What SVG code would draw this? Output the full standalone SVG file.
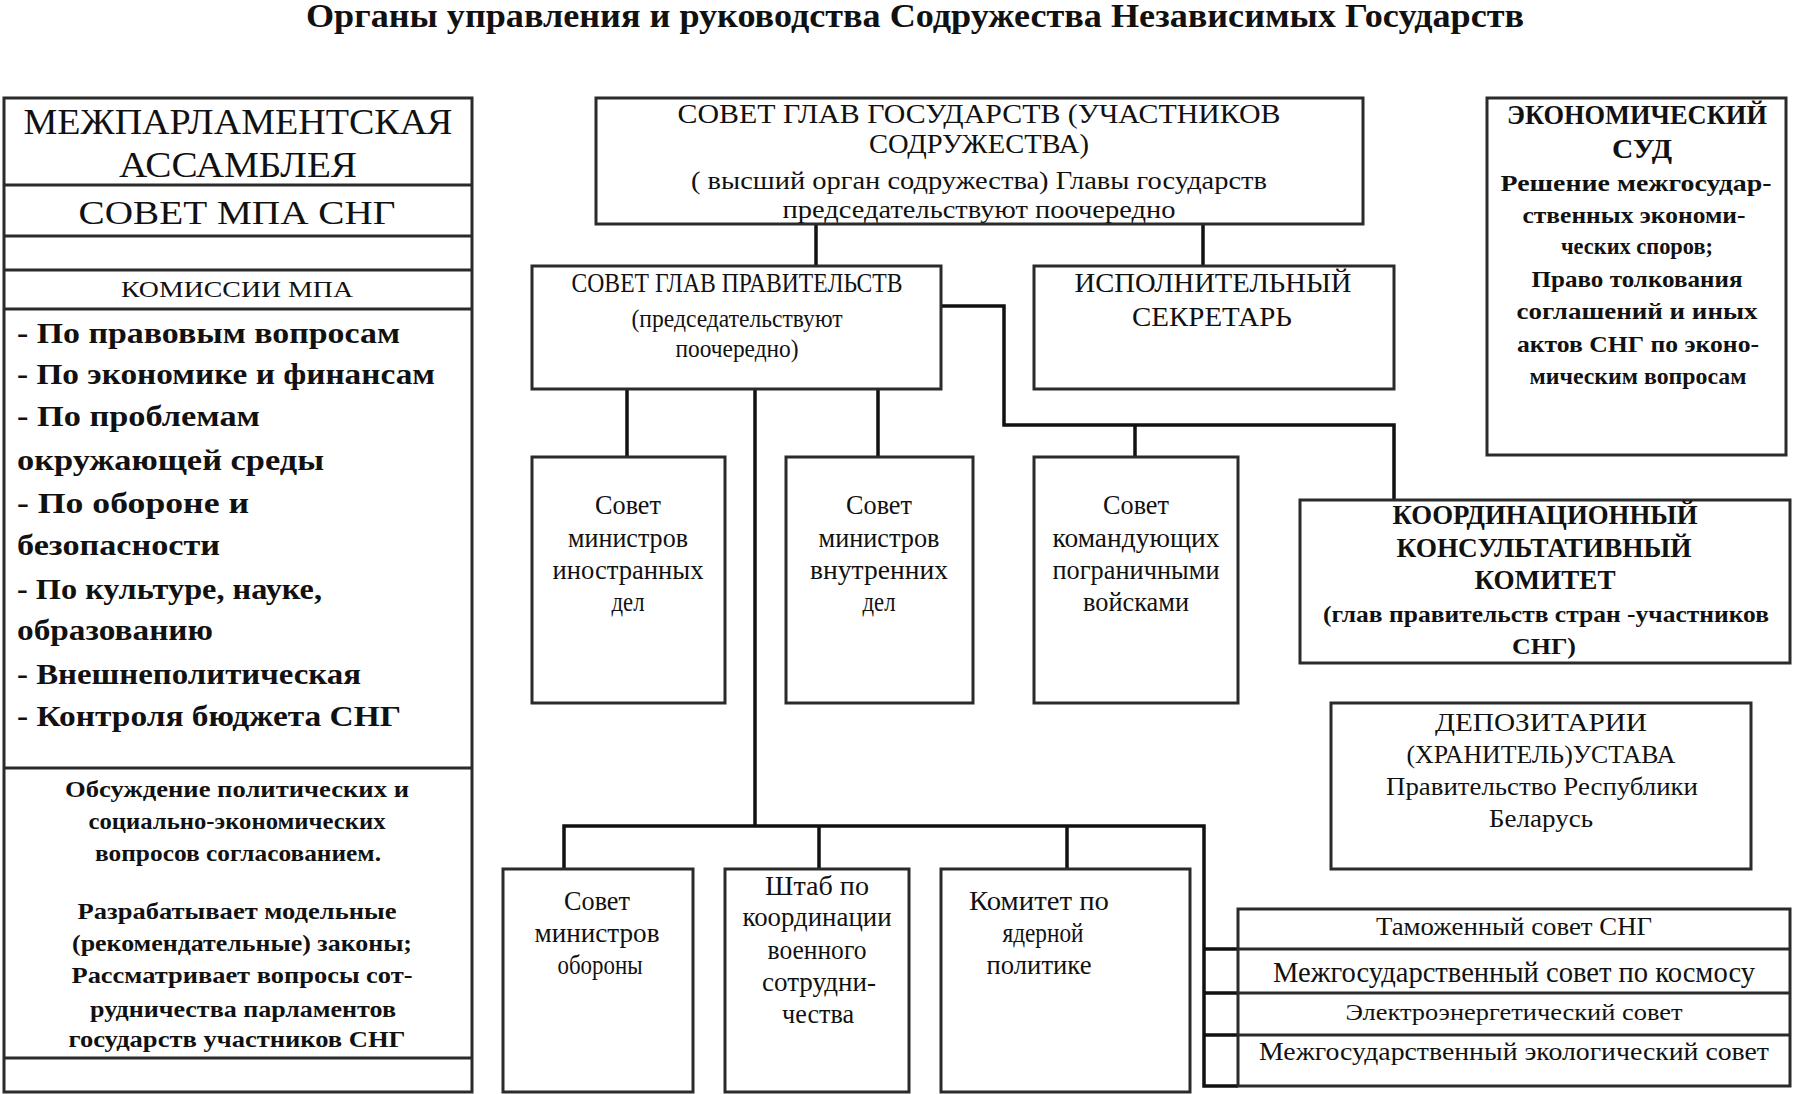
<svg xmlns="http://www.w3.org/2000/svg" width="1793" height="1094" viewBox="0 0 1793 1094">
<style>
.box{fill:#fff;stroke:#2b2b2b;stroke-width:3}
.sep{stroke:#2b2b2b;stroke-width:3;fill:none}
.c{fill:none;stroke:#111;stroke-width:3.5}
text{font-family:"Liberation Serif","Times New Roman",serif;fill:#111}
.m{text-anchor:middle}
.b{font-weight:bold}
</style>
<rect width="1793" height="1094" fill="#fff"/>
<text class="m b" x="915" y="27" font-size="34" textLength="1218" lengthAdjust="spacingAndGlyphs">Органы управления и руководства Содружества Независимых Государств</text>

<g id="connectors">
<path class="c" d="M816 224V266M1203 224V266"/>
<path class="c" d="M941 306H1004V425H1394V500M1135 425V457"/>
<path class="c" d="M627 389V457M878 389V457"/>
<path class="c" d="M755 389V826M564 869V826H1204V1086H1238M819 826V869M1067 826V869"/>
<path class="c" d="M1204 949H1238M1204 993H1238M1204 1035H1238"/>
</g>

<g id="mpa">
<rect class="box" x="4" y="98" width="468" height="994"/>
<path class="sep" d="M4 185H472M4 236H472M4 270H472M4 309H472M4 768H472M4 1058H472"/>
<text class="m" x="238" y="134" font-size="36" textLength="429" lengthAdjust="spacingAndGlyphs">МЕЖПАРЛАМЕНТСКАЯ</text>
<text class="m" x="238" y="177" font-size="36" textLength="238" lengthAdjust="spacingAndGlyphs">АССАМБЛЕЯ</text>
<text class="m" x="237" y="224" font-size="34" textLength="317" lengthAdjust="spacingAndGlyphs">СОВЕТ МПА СНГ</text>
<text class="m" x="237" y="297" font-size="24" textLength="232" lengthAdjust="spacingAndGlyphs">КОМИССИИ МПА</text>
<g class="b" font-size="30">
<text x="17" y="343" textLength="383" lengthAdjust="spacingAndGlyphs">- По правовым вопросам</text>
<text x="17" y="384" textLength="418" lengthAdjust="spacingAndGlyphs">- По экономике и финансам</text>
<text x="17" y="426" textLength="243" lengthAdjust="spacingAndGlyphs">- По проблемам</text>
<text x="17" y="470" textLength="307" lengthAdjust="spacingAndGlyphs">окружающей среды</text>
<text x="17" y="513" textLength="232" lengthAdjust="spacingAndGlyphs">- По обороне и</text>
<text x="17" y="555" textLength="203" lengthAdjust="spacingAndGlyphs">безопасности</text>
<text x="17" y="599" textLength="305" lengthAdjust="spacingAndGlyphs">- По культуре, науке,</text>
<text x="17" y="640" textLength="196" lengthAdjust="spacingAndGlyphs">образованию</text>
<text x="17" y="684" textLength="344" lengthAdjust="spacingAndGlyphs">- Внешнеполитическая</text>
<text x="17" y="726" textLength="384" lengthAdjust="spacingAndGlyphs">- Контроля бюджета СНГ</text>
</g>
<g class="m b" font-size="24">
<text x="237" y="797" textLength="344" lengthAdjust="spacingAndGlyphs">Обсуждение политических и</text>
<text x="237" y="829" textLength="297" lengthAdjust="spacingAndGlyphs">социально-экономических</text>
<text x="238" y="861" textLength="286" lengthAdjust="spacingAndGlyphs">вопросов согласованием.</text>
<text x="237" y="919" textLength="319" lengthAdjust="spacingAndGlyphs">Разрабатывает модельные</text>
<text x="242" y="951" textLength="340" lengthAdjust="spacingAndGlyphs">(рекомендательные) законы;</text>
<text x="242" y="983" textLength="341" lengthAdjust="spacingAndGlyphs">Рассматривает вопросы сот-</text>
<text x="243" y="1017" textLength="306" lengthAdjust="spacingAndGlyphs">рудничества парламентов</text>
<text x="237" y="1047" textLength="337" lengthAdjust="spacingAndGlyphs">государств участников СНГ</text>
</g>
</g>

<g id="sgg">
<rect class="box" x="596" y="98" width="767" height="126"/>
<g class="m" font-size="27">
<text x="979" y="123" textLength="603" lengthAdjust="spacingAndGlyphs">СОВЕТ ГЛАВ ГОСУДАРСТВ (УЧАСТНИКОВ</text>
<text x="979" y="153" textLength="220" lengthAdjust="spacingAndGlyphs">СОДРУЖЕСТВА)</text>
</g>
<g class="m" font-size="26">
<text x="979" y="189" textLength="576" lengthAdjust="spacingAndGlyphs">( высший орган содружества) Главы государств</text>
<text x="979" y="218" textLength="393" lengthAdjust="spacingAndGlyphs">председательствуют поочередно</text>
</g>
</g>

<g id="sgp">
<rect class="box" x="532" y="266" width="409" height="123"/>
<text class="m" x="737" y="292" font-size="27" textLength="331" lengthAdjust="spacingAndGlyphs">СОВЕТ ГЛАВ ПРАВИТЕЛЬСТВ</text>
<text class="m" x="737" y="327" font-size="25" textLength="211" lengthAdjust="spacingAndGlyphs">(председательствуют</text>
<text class="m" x="737" y="357" font-size="25" textLength="123" lengthAdjust="spacingAndGlyphs">поочередно)</text>
</g>

<g id="ispsec">
<rect class="box" x="1034" y="266" width="360" height="123"/>
<text class="m" x="1213" y="292" font-size="28" textLength="277" lengthAdjust="spacingAndGlyphs">ИСПОЛНИТЕЛЬНЫЙ</text>
<text class="m" x="1212" y="326" font-size="28" textLength="160" lengthAdjust="spacingAndGlyphs">СЕКРЕТАРЬ</text>
</g>

<g id="ecsud">
<rect class="box" x="1487" y="98" width="299" height="357"/>
<text class="m b" x="1637" y="124" font-size="27" textLength="260" lengthAdjust="spacingAndGlyphs">ЭКОНОМИЧЕСКИЙ</text>
<text class="m b" x="1642" y="158" font-size="27" textLength="60" lengthAdjust="spacingAndGlyphs">СУД</text>
<g class="m b" font-size="23">
<text x="1636" y="191" textLength="271" lengthAdjust="spacingAndGlyphs">Решение межгосудар-</text>
<text x="1634" y="223" textLength="223" lengthAdjust="spacingAndGlyphs">ственных экономи-</text>
<text x="1637" y="254" textLength="152" lengthAdjust="spacingAndGlyphs">ческих споров;</text>
<text x="1637" y="287" textLength="211" lengthAdjust="spacingAndGlyphs">Право толкования</text>
<text x="1637" y="319" textLength="241" lengthAdjust="spacingAndGlyphs">соглашений и иных</text>
<text x="1638" y="352" textLength="242" lengthAdjust="spacingAndGlyphs">актов СНГ по эконо-</text>
<text x="1638" y="384" textLength="217" lengthAdjust="spacingAndGlyphs">мическим вопросам</text>
</g>
</g>

<g id="kkk">
<rect class="box" x="1300" y="500" width="490" height="163"/>
<g class="m b" font-size="27">
<text x="1545" y="524" textLength="305" lengthAdjust="spacingAndGlyphs">КООРДИНАЦИОННЫЙ</text>
<text x="1544" y="557" textLength="295" lengthAdjust="spacingAndGlyphs">КОНСУЛЬТАТИВНЫЙ</text>
<text x="1545" y="589" textLength="141" lengthAdjust="spacingAndGlyphs">КОМИТЕТ</text>
</g>
<g class="m b" font-size="23">
<text x="1546" y="622" textLength="446" lengthAdjust="spacingAndGlyphs">(глав правительств стран -участников</text>
<text x="1544" y="654" textLength="64" lengthAdjust="spacingAndGlyphs">СНГ)</text>
</g>
</g>

<g id="smid">
<rect class="box" x="532" y="457" width="193" height="246"/>
<g class="m" font-size="27">
<text x="628" y="514" textLength="66" lengthAdjust="spacingAndGlyphs">Совет</text>
<text x="628" y="547" textLength="120" lengthAdjust="spacingAndGlyphs">министров</text>
<text x="628" y="579" textLength="151" lengthAdjust="spacingAndGlyphs">иностранных</text>
<text x="628" y="611" textLength="33" lengthAdjust="spacingAndGlyphs">дел</text>
</g>
</g>

<g id="smvd">
<rect class="box" x="786" y="457" width="187" height="246"/>
<g class="m" font-size="27">
<text x="879" y="514" textLength="66" lengthAdjust="spacingAndGlyphs">Совет</text>
<text x="879" y="547" textLength="121" lengthAdjust="spacingAndGlyphs">министров</text>
<text x="879" y="579" textLength="138" lengthAdjust="spacingAndGlyphs">внутренних</text>
<text x="879" y="611" textLength="33" lengthAdjust="spacingAndGlyphs">дел</text>
</g>
</g>

<g id="skpv">
<rect class="box" x="1034" y="457" width="204" height="246"/>
<g class="m" font-size="27">
<text x="1136" y="514" textLength="66" lengthAdjust="spacingAndGlyphs">Совет</text>
<text x="1136" y="547" textLength="167" lengthAdjust="spacingAndGlyphs">командующих</text>
<text x="1136" y="579" textLength="167" lengthAdjust="spacingAndGlyphs">пограничными</text>
<text x="1136" y="611" textLength="106" lengthAdjust="spacingAndGlyphs">войсками</text>
</g>
</g>

<g id="depo">
<rect class="box" x="1331" y="703" width="420" height="166"/>
<g class="m" font-size="26">
<text x="1541" y="731" textLength="212" lengthAdjust="spacingAndGlyphs">ДЕПОЗИТАРИИ</text>
<text x="1541" y="763" textLength="269" lengthAdjust="spacingAndGlyphs">(ХРАНИТЕЛЬ)УСТАВА</text>
<text x="1542" y="795" textLength="312" lengthAdjust="spacingAndGlyphs">Правительство Республики</text>
<text x="1541" y="827" textLength="104" lengthAdjust="spacingAndGlyphs">Беларусь</text>
</g>
</g>

<g id="smo">
<rect class="box" x="503" y="869" width="190" height="223"/>
<g class="m" font-size="27">
<text x="597" y="910" textLength="66" lengthAdjust="spacingAndGlyphs">Совет</text>
<text x="597" y="942" textLength="125" lengthAdjust="spacingAndGlyphs">министров</text>
<text x="600" y="974" textLength="85" lengthAdjust="spacingAndGlyphs">обороны</text>
</g>
</g>

<g id="shtab">
<rect class="box" x="725" y="869" width="184" height="223"/>
<g class="m" font-size="27">
<text x="817" y="895" textLength="104" lengthAdjust="spacingAndGlyphs">Штаб по</text>
<text x="817" y="926" textLength="149" lengthAdjust="spacingAndGlyphs">координации</text>
<text x="817" y="959" textLength="99" lengthAdjust="spacingAndGlyphs">военного</text>
<text x="819" y="991" textLength="114" lengthAdjust="spacingAndGlyphs">сотрудни-</text>
<text x="818" y="1023" textLength="72" lengthAdjust="spacingAndGlyphs">чества</text>
</g>
</g>

<g id="kyp">
<rect class="box" x="941" y="869" width="249" height="223"/>
<g class="m" font-size="27">
<text x="1039" y="910" textLength="140" lengthAdjust="spacingAndGlyphs">Комитет по</text>
<text x="1043" y="942" textLength="81" lengthAdjust="spacingAndGlyphs">ядерной</text>
<text x="1039" y="974" textLength="105" lengthAdjust="spacingAndGlyphs">политике</text>
</g>
</g>

<g id="councils">
<rect class="box" x="1238" y="909" width="552" height="177"/>
<path class="sep" d="M1238 949H1790M1238 993H1790M1238 1035H1790"/>
<text class="m" x="1514" y="935" font-size="25" textLength="276" lengthAdjust="spacingAndGlyphs">Таможенный совет СНГ</text>
<text class="m" x="1514" y="982" font-size="30" textLength="482" lengthAdjust="spacingAndGlyphs">Межгосударственный совет по космосу</text>
<text class="m" x="1514" y="1020" font-size="24" textLength="337" lengthAdjust="spacingAndGlyphs">Электроэнергетический совет</text>
<text class="m" x="1514" y="1060" font-size="26" textLength="510" lengthAdjust="spacingAndGlyphs">Межгосударственный экологический совет</text>
</g>
</svg>
